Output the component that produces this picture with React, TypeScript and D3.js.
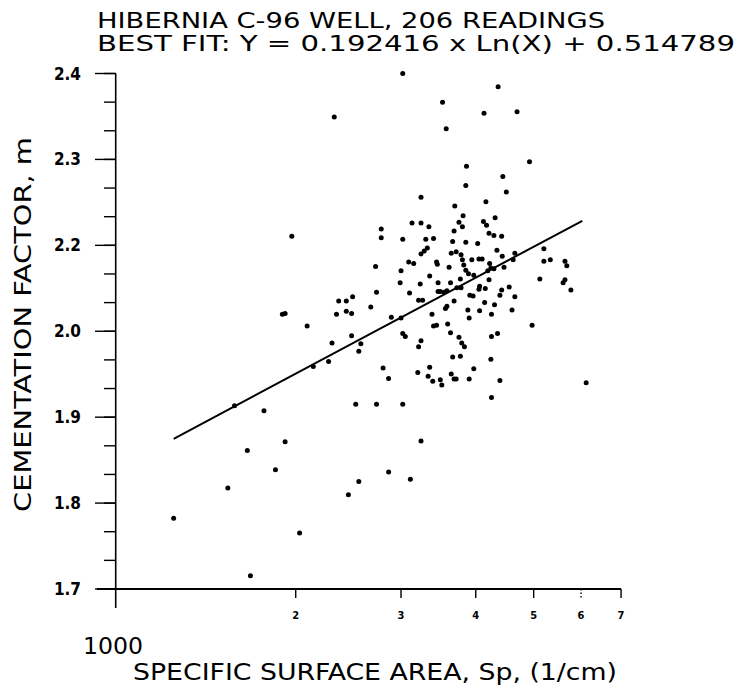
import React from 'react';
import * as d3 from 'd3';

// Specific surface area Sp (1/cm) and cementation factor m for each reading
const SP_VALUES = [
  3020, 4360, 3520, 4130, 4690, 2320, 3570, 3860, 4920, 4440,
  3850, 4500, 3240, 1970, 3690, 4160, 3810, 4310, 3750, 3800,
  4120, 4170, 3130, 3240, 3340, 2780, 2780, 3020, 3300, 3400,
  3680, 4210, 4290, 4420, 3660, 3850, 4030, 3240, 3280, 3320,
  3090, 3150, 3440, 3450, 2720, 3000, 3350, 2990, 3230, 3460,
  2730, 3100, 3460, 3210, 3260, 2360, 2430, 2490, 2670, 1900,
  1920, 2340, 2430, 2480, 2090, 2890, 3000, 3380, 3400, 3440,
  2480, 3020, 3050, 3240, 3210, 2300, 2570, 2550, 4340, 4430,
  4650, 4620, 3640, 3710, 3780, 3800, 3820, 3850, 3890, 3970,
  3940, 4050, 4100, 3610, 4220, 4240, 4190, 4290, 4460, 5200,
  5200, 5330, 5640, 5680, 5120, 3770, 4210, 3630, 5640, 5600,
  5770, 3490, 3580, 3540, 3720, 3780, 4060, 4050, 4150, 4550,
  4420, 4390, 4650, 3910, 3960, 3580, 3560, 3680, 4140, 4300,
  3880, 4060, 4250, 4600, 3900, 3590, 4970, 3630, 3750, 3790,
  3830, 4250, 4350, 3660, 3770, 4240, 2800, 2860, 3200, 3350,
  3330, 3390, 3490, 3510, 3640, 3680, 3710, 3900, 3970, 4390,
  6120, 4250, 2520, 2730, 3020, 3240, 2860, 3110, 2550, 2450,
  2140, 2270, 1580, 1770, 1660, 1920, 1850, 1540, 1250, 2030,
  1680
];
const M_VALUES = [
  2.400, 2.382, 2.361, 2.346, 2.348, 2.341, 2.325, 2.274, 2.280, 2.260,
  2.248, 2.239, 2.232, 2.179, 2.220, 2.226, 2.207, 2.204, 2.198, 2.192,
  2.199, 2.194, 2.197, 2.197, 2.192, 2.189, 2.177, 2.175, 2.175, 2.176,
  2.186, 2.183, 2.180, 2.179, 2.172, 2.171, 2.169, 2.155, 2.159, 2.163,
  2.144, 2.142, 2.144, 2.141, 2.138, 2.132, 2.125, 2.116, 2.114, 2.116,
  2.103, 2.102, 2.104, 2.092, 2.092, 2.091, 2.091, 2.097, 2.083, 2.073,
  2.074, 2.073, 2.077, 2.074, 2.057, 2.069, 2.068, 2.073, 2.057, 2.058,
  2.044, 2.047, 2.043, 2.037, 2.029, 2.034, 2.033, 2.023, 2.160, 2.152,
  2.156, 2.147, 2.156, 2.158, 2.154, 2.147, 2.140, 2.133, 2.128, 2.126,
  2.147, 2.148, 2.148, 2.137, 2.142, 2.136, 2.132, 2.135, 2.137, 2.162,
  2.145, 2.147, 2.145, 2.139, 2.121, 2.121, 2.120, 2.116, 2.120, 2.116,
  2.106, 2.104, 2.105, 2.103, 2.109, 2.109, 2.111, 2.107, 2.108, 2.110,
  2.106, 2.099, 2.097, 2.099, 2.098, 2.084, 2.081, 2.091, 2.089, 2.086,
  2.079, 2.078, 2.073, 2.079, 2.068, 2.060, 2.058, 2.048, 2.042, 2.034,
  2.029, 2.043, 2.047, 2.015, 2.016, 2.012, 2.000, 1.986, 1.994, 2.001,
  1.989, 1.982, 1.984, 1.977, 1.992, 1.985, 1.985, 1.985, 1.999, 1.983,
  1.980, 1.960, 1.951, 1.951, 1.951, 1.901, 1.859, 1.849, 1.846, 1.828,
  2.002, 2.009, 1.949, 1.942, 1.888, 1.900, 1.862, 1.837, 1.796, 1.776,
  1.718
];

// Best-fit line end points as drawn
const FIT_SP = [1250, 6030];
const FIT_M = [1.904, 2.2];

const Y_TICK_LABELS = ['1.7', '1.8', '1.9', '2.0', '2.2', '2.3', '2.4'];
const X_TICK_VALUES = [2000, 3000, 4000, 5000, 6000, 7000];
const X_TICK_LABELS = ['2', '3', '4', '5', '6', '7'];
const TITLE_LINES = [
  'HIBERNIA C-96 WELL, 206 READINGS',
  'BEST FIT: Y = 0.192416 x Ln(X) + 0.514789',
];
const X_TITLE = 'SPECIFIC SURFACE AREA, Sp, (1/cm)';
const Y_TITLE = 'CEMENTATION FACTOR, m';
const X_BASE_LABEL = '1000';

export default function App() {
  const W = 742;
  const H = 689;
  const x = d3.scaleLog().domain([1000, 10000]).range([115.7, 713.7]);
  const y = d3.scaleLinear().domain([1.7, 2.4]).range([589, 73.5]);
  const yMajor = d3.range(Y_TICK_LABELS.length).map((i) => 1.7 + (i * 0.7) / (Y_TICK_LABELS.length - 1));
  const yMinor = d3.range(19).map((i) => 1.7 + (i * 0.7) / 18);
  const pts = SP_VALUES.map((s, i) => [s, M_VALUES[i]] as [number, number]);
  const fit = FIT_SP.map((s, i) => [s, FIT_M[i]] as [number, number]);
  const line = d3.line<[number, number]>().x((d) => x(d[0])).y((d) => y(d[1]));
  const x0 = x(1000);
  const y0 = y(1.7);
  const xEnd = x(7000);
  const font = '"DejaVu Sans Condensed", "DejaVu Sans", sans-serif';

  return (
    <svg width={W} height={H} style={{ position: 'absolute', left: 0, top: 0, background: '#fff' }}>
      <rect x={0} y={0} width={W} height={H} fill="#fff" />
      {/* titles */}
      <text x={97} y={28} fontFamily={font} fontSize={21} textLength={508} lengthAdjust="spacingAndGlyphs">{TITLE_LINES[0]}</text>
      <text x={97} y={51} fontFamily={font} fontSize={21} textLength={638} lengthAdjust="spacingAndGlyphs">{TITLE_LINES[1]}</text>

      {/* y axis */}
      <line x1={x0} x2={x0} y1={y(2.4)} y2={608} stroke="#000" strokeWidth={1.6} />
      {yMinor.map((v, i) => (
        <line key={'ym' + i} x1={104} x2={x0} y1={y(v)} y2={y(v)} stroke="#000" strokeWidth={1.4} />
      ))}
      {yMajor.map((v, i) => (
        <g key={'yM' + i}>
          <line x1={95} x2={x0} y1={y(v)} y2={y(v)} stroke="#000" strokeWidth={1.4} />
          <text x={81} y={y(v) + 6} textAnchor="end" fontFamily={font} fontSize={17} fontWeight={700}>
            {Y_TICK_LABELS[i]}
          </text>
        </g>
      ))}
      <text
        transform={`translate(31, ${(137 + 512) / 2}) rotate(-90)`}
        textAnchor="middle"
        fontFamily={font}
        fontSize={23}
        textLength={375}
        lengthAdjust="spacingAndGlyphs"
      >
        {Y_TITLE}
      </text>

      {/* x axis */}
      <line x1={97} x2={xEnd} y1={y0} y2={y0} stroke="#000" strokeWidth={2} />
      {X_TICK_VALUES.map((v, i) => (
        <g key={'xt' + i}>
          <line
            x1={x(v)}
            x2={x(v)}
            y1={y0}
            y2={y0 + 9}
            stroke="#000"
            strokeWidth={1.4}
            strokeDasharray={v === 6000 ? '1.5,2' : undefined}
          />
          <text x={x(v)} y={y0 + 30} textAnchor="middle" fontFamily={font} fontSize={11} fontWeight={700}>
            {X_TICK_LABELS[i]}
          </text>
        </g>
      ))}
      <text x={83} y={654} fontFamily={font} fontSize={23} textLength={60} lengthAdjust="spacingAndGlyphs">{X_BASE_LABEL}</text>
      <text x={133} y={680} fontFamily={font} fontSize={23} textLength={484} lengthAdjust="spacingAndGlyphs">{X_TITLE}</text>

      {/* fit line */}
      <path d={line(fit) || ''} fill="none" stroke="#000" strokeWidth={2} />

      {/* points */}
      {pts.map((d, i) => (
        <circle key={'p' + i} cx={x(d[0])} cy={y(d[1])} r={2.5} fill="#000" />
      ))}
    </svg>
  );
}
